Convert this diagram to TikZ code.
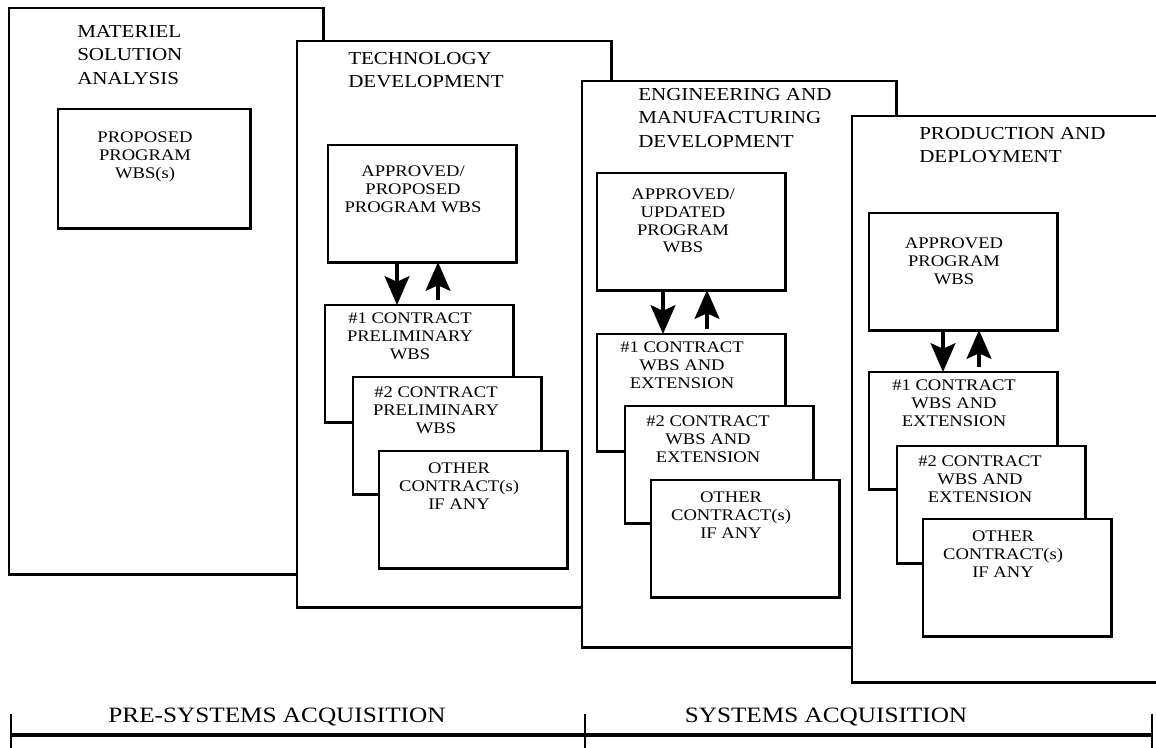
\documentclass[tikz,border=0pt]{standalone}
\usepackage{fontspec}
\setmainfont{Liberation Serif}[FakeStretch=1.15]
\usetikzlibrary{arrows.meta}
\begin{document}
\begin{tikzpicture}[x=0.025cm, y=-0.025cm, line join=miter,
		>={Stealth[length=0.72cm, width=0.62cm, inset=0.14cm]},
		phase/.style={draw, line width=2.1pt, fill=white, minimum width=7.85cm, minimum height=14.15cm, anchor=north west, inner sep=0, outer sep=0},
		wbsbox/.style={draw, line width=2.1pt, fill=white, minimum width=4.7cm, minimum height=2.925cm, anchor=north west, inner sep=0, outer sep=0},
		phasetitle/.style={anchor=north west, inner sep=0, align=left, font={\fontsize{13}{16.7}\selectfont}},
		wbstext/.style={anchor=north, inner sep=0, align=center, font={\fontsize{11.5}{12.45}\selectfont}},
		acqlabel/.style={anchor=base, inner sep=0, font={\fontsize{15.6}{18}\selectfont}},
		flow/.style={->, line width=2.4pt}]
	\useasboundingbox (0,0) rectangle (1156,748);
	% materiel solution analysis
	\node[phase] (msa) at (9,8) {};
	\node[phasetitle] (msatitle) at ([shift={(68,17)}]msa.north west) {MATERIEL\\SOLUTION\\ANALYSIS};
	\node[wbsbox, minimum width=4.8cm, minimum height=2.975cm] (msawbs) at (58,109) {};
	\node[wbstext] (msawbstext) at ([shift={(-9,23)}]msawbs.north) {PROPOSED\\PROGRAM\\WBS(s)};
	% technology development
	\node[phase] (td) at (297,41) {};
	\node[phasetitle] (tdtitle) at ([shift={(51,11)}]td.north west) {TECHNOLOGY\\DEVELOPMENT};
	\node[wbsbox] (tdwbs) at (328,145) {};
	\node[wbstext] (tdwbstext) at ([shift={(-9,21)}]tdwbs.north) {APPROVED/\\PROPOSED\\PROGRAM WBS};
	\node[wbsbox] (tdc1) at (325,305) {};
	\node[wbstext] (tdc1text) at ([shift={(-9,8)}]tdc1.north) {\#1 CONTRACT\\PRELIMINARY\\WBS};
	\node[wbsbox] (tdc2) at (353,377) {};
	\node[wbstext] (tdc2text) at ([shift={(-11,10)}]tdc2.north) {\#2 CONTRACT\\PRELIMINARY\\WBS};
	\node[wbsbox] (tdc3) at (379,451) {};
	\node[wbstext] (tdc3text) at ([shift={(-14,12)}]tdc3.north) {OTHER\\CONTRACT(s)\\IF ANY};
	\draw[flow] ([shift={(69,0)}]tdwbs.south west) -- ([shift={(72,0)}]tdc1.north west);
	\draw[flow] ([shift={(113,-5)}]tdc1.north west) -- ([shift={(110,0)}]tdwbs.south west);
	% engineering and manufacturing development
	\node[phase] (emd) at (582,81) {};
	\node[phasetitle] (emdtitle) at ([shift={(56,7)}]emd.north west) {ENGINEERING AND\\MANUFACTURING\\DEVELOPMENT};
	\node[wbsbox] (emdwbs) at (597,173) {};
	\node[wbstext] (emdwbstext) at ([shift={(-8,16)}]emdwbs.north) {APPROVED/\\UPDATED\\PROGRAM\\WBS};
	\node[wbsbox] (emdc1) at (597,334) {};
	\node[wbstext] (emdc1text) at ([shift={(-9,8)}]emdc1.north) {\#1 CONTRACT\\WBS AND\\EXTENSION};
	\node[wbsbox] (emdc2) at (625,406) {};
	\node[wbstext] (emdc2text) at ([shift={(-11,10)}]emdc2.north) {\#2 CONTRACT\\WBS AND\\EXTENSION};
	\node[wbsbox] (emdc3) at (651,480) {};
	\node[wbstext] (emdc3text) at ([shift={(-14,12)}]emdc3.north) {OTHER\\CONTRACT(s)\\IF ANY};
	\draw[flow] ([shift={(66,0)}]emdwbs.south west) -- ([shift={(66,0)}]emdc1.north west);
	\draw[flow] ([shift={(110,-5)}]emdc1.north west) -- ([shift={(110,0)}]emdwbs.south west);
	% production and deployment
	\node[phase] (pd) at (852,116) {};
	\node[phasetitle] (pdtitle) at ([shift={(67,11)}]pd.north west) {PRODUCTION AND\\DEPLOYMENT};
	\node[wbsbox] (pdwbs) at (869,213) {};
	\node[wbstext] (pdwbstext) at ([shift={(-9,25)}]pdwbs.north) {APPROVED\\PROGRAM\\WBS};
	\node[wbsbox] (pdc1) at (869,372) {};
	\node[wbstext] (pdc1text) at ([shift={(-9,8)}]pdc1.north) {\#1 CONTRACT\\WBS AND\\EXTENSION};
	\node[wbsbox] (pdc2) at (897,446) {};
	\node[wbstext] (pdc2text) at ([shift={(-11,10)}]pdc2.north) {\#2 CONTRACT\\WBS AND\\EXTENSION};
	\node[wbsbox] (pdc3) at (923,519) {};
	\node[wbstext] (pdc3text) at ([shift={(-14,12)}]pdc3.north) {OTHER\\CONTRACT(s)\\IF ANY};
	\draw[flow] ([shift={(74,0)}]pdwbs.south west) -- ([shift={(74,0)}]pdc1.north west);
	\draw[flow] ([shift={(110,-5)}]pdc1.north west) -- ([shift={(110,0)}]pdwbs.south west);
	% acquisition time line
	\coordinate (presys) at (11,735);
	\coordinate (midsys) at (585,735);
	\coordinate (endsys) at (1152,735);
	\draw[line width=2.6pt] (presys) -- (endsys);
	\foreach \t in {presys,midsys,endsys}
	\draw[line width=1.5pt] ([shift={(0,-21)}]\t) -- ([shift={(0,13)}]\t);
	\node[acqlabel] (presyslabel) at (277,722) {PRE-SYSTEMS ACQUISITION};
	\node[acqlabel] (syslabel) at (826,722) {SYSTEMS ACQUISITION};
\end{tikzpicture}
\end{document}
